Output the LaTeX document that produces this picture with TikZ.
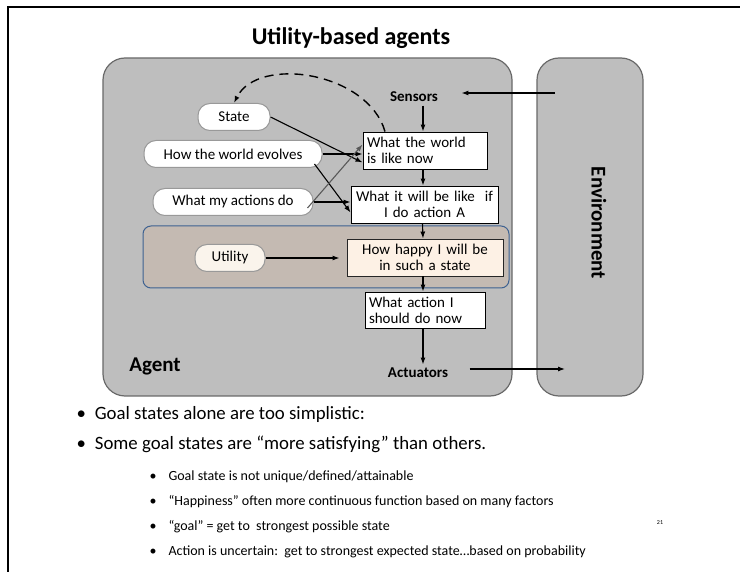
\documentclass[tikz,border=0pt]{standalone}
\usepackage{fontspec}
\setmainfont{Carlito}
\usepackage{tikz}
\usepackage{xcolor}
\usetikzlibrary{positioning, arrows.meta}
\definecolor{agentgray}{RGB}{190, 190, 190}
\definecolor{edgegray}{RGB}{105, 105, 105}
\definecolor{utilfill}{RGB}{196, 186, 178}
\definecolor{utilblue}{RGB}{62, 98, 145}
\definecolor{happyfill}{RGB}{253, 241, 229}
\definecolor{cream}{RGB}{250, 244, 236}
\tikzset{
    panel/.style={draw=edgegray, fill=agentgray, line width=1.2pt, rounded corners=22pt},
    memnode/.style={draw=gray!80, fill=white, line width=1pt, rounded corners=12pt, minimum height=27pt, inner xsep=6pt, font=\fontsize{15}{16}\selectfont},
    procbox/.style={draw=black, fill=white, line width=0.9pt, inner xsep=4pt, inner ysep=1pt, font=\fontsize{15}{16}\selectfont},
    boldlbl/.style={font=\fontsize{15}{16}\selectfont\bfseries},
    flow/.style={-{Latex[length=7pt, width=5pt]}, line width=1.1pt},
    bullettxt/.style={anchor=west, font=\fontsize{18.8}{20}\selectfont},
    subtxt/.style={anchor=west, font=\fontsize{14}{16}\selectfont}
}

\begin{document}
\begin{tikzpicture}[x=1pt, y=-1pt]
                    \useasboundingbox (0,0) rectangle (740,572);
                    % slide frame
                    \draw[line width=2pt] (8,572) -- (8,7) -- (740,7);
                    \node[font=\fontsize{24}{26}\selectfont\bfseries] (title) at (351,38) {Utility-based agents};

                    % agent and environment panels
                    \draw[panel] (103,58) rectangle (512,396);
                    \draw[panel] (537,58) rectangle (643,396);
                    \node[rotate=-90, font=\fontsize{21}{23}\selectfont\bfseries] (env) at (599,223) {Environment};
                    \draw[utilblue, fill=utilfill, line width=1pt, rounded corners=8pt] (143,226) rectangle (509,288);

                    \node[boldlbl] (sensors) at (414,97) {Sensors};
                    \node[boldlbl] (actuators) at (418,373) {Actuators};
                    \node[font=\fontsize{21}{23}\selectfont\bfseries] (agent) at (155,366) {Agent};

                    % internal state and knowledge
                    \node[memnode, minimum width=72pt] (state) at (234,117) {State};
                    \node[memnode, minimum width=178pt] (evolves) at (233,154) {How the world evolves};
                    \node[memnode, minimum width=160pt] (actions) at (233,202) {What my actions do};
                    \node[memnode, minimum width=70pt, fill=cream] (utility) at (230,258) {Utility};

                    % processing boxes
                    \node[procbox, text width=116pt, minimum height=37pt, align=left] (world) at (425,150.5) {What the world\\is like now};
                    \node[procbox, text width=139pt, minimum height=37pt, align=center] (willbe) at (424.5,204.5) {What it will be like\ \ if\\I do action A};
                    \node[procbox, text width=148pt, minimum height=37pt, align=center, fill=happyfill, draw=black!85] (happy) at (425,257.5) {How happy I will be\\in such a state};
                    \node[procbox, text width=112pt, minimum height=36pt, align=left] (action) at (425,310) {What action I\\should do now};

                    % sensing and acting
                    \coordinate (envin) at (555,93);
                    \coordinate (envout) at (565,369);
                    \draw[flow] (envin) -- ([xshift=20pt]sensors.east |- envin);
                    \draw[flow] ([xshift=18pt]actuators.east |- envout) -- (envout);
                    \draw[flow] ([xshift=-2pt]sensors.south -| world.north) -- ([xshift=-2pt]world.north);
                    \draw[flow] ([xshift=-2pt]action.south) -- ([xshift=5pt]actuators.north);

                    % model links
                    \draw[flow, dashed, line width=1.4pt, dash pattern=on 9pt off 6pt] ([xshift=-40pt]world.north) .. controls (368,72) and (258,55) .. (state.north);
                    \draw[flow] (state.east) -- ([yshift=-12pt]world.west);
                    \draw[flow] (evolves.east) -- (world.west |- evolves.east);
                    \draw[flow] ([xshift=-8pt, yshift=4pt]evolves.south east) -- ([yshift=-8pt]willbe.west);
                    \draw[flow, black!65] ([xshift=-6pt, yshift=-6pt]actions.east) -- ([yshift=6pt]world.west);
                    \draw[flow] (actions.east) -- (willbe.west |- actions.east);
                    \draw[flow] ([xshift=-2pt]world.south) -- ([xshift=-2pt]willbe.north -| world.south);
                    \draw[flow] ([xshift=-2pt]willbe.south) -- ([xshift=-2pt]happy.north);
                    \draw[flow] (utility.east) -- ([xshift=-7pt]happy.west |- utility.east);
                    \draw[flow] ([xshift=-2pt]happy.south) -- ([xshift=-2pt]action.north);

                    % bullet text
                    \node[bullettxt] (b1) at (73,414) {\textbullet\hspace{9pt}Goal states alone are too simplistic:};
                    \node[bullettxt] (b2) at (73,444) {\textbullet\hspace{9pt}Some goal states are “more satisfying” than others.};
                    \node[subtxt] (s1) at (146,477) {\textbullet\hspace{12pt}Goal state is not unique/defined/attainable};
                    \node[subtxt] (s2) at (146,502) {\textbullet\hspace{12pt}“Happiness” often more continuous function based on many factors};
                    \node[subtxt] (s3) at (146,527) {\textbullet\hspace{12pt}“goal” = get to\ \ strongest possible state};
                    \node[subtxt] (s4) at (146,552) {\textbullet\hspace{12pt}Action is uncertain:\ \ get to strongest expected state…based on probability};
                    \node[font=\fontsize{6}{7}\selectfont] (pagenum) at (660,523) {21};
                \end{tikzpicture}
\end{document}
